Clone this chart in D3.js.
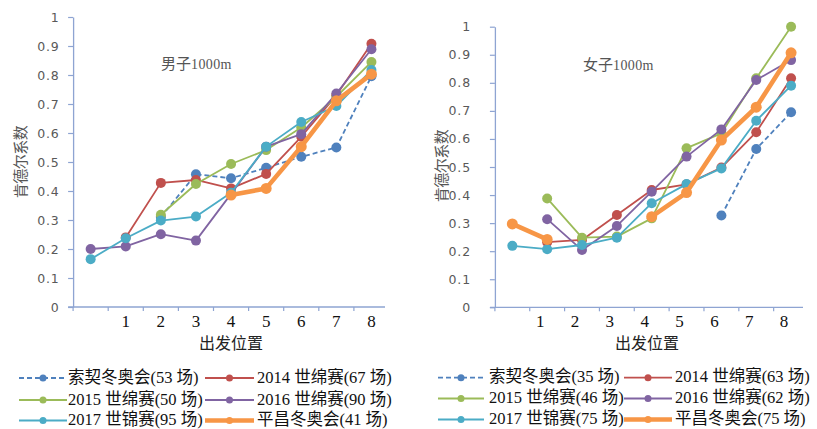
<!DOCTYPE html>
<html><head><meta charset="utf-8">
<script src="https://cdn.jsdelivr.net/npm/d3@7"></script>
<style>
html,body{margin:0;padding:0;background:#fff;}
svg{display:block;}
</style></head>
<body>
<svg id="c" width="817" height="429"></svg>
<script>
const categories = ["", "1", "2", "3", "4", "5", "6", "7", "8"];
const yTicks = [0, 0.1, 0.2, 0.3, 0.4, 0.5, 0.6, 0.7, 0.8, 0.9, 1];
const yTickLabels = ["0", "0.1", "0.2", "0.3", "0.4", "0.5", "0.6", "0.7", "0.8", "0.9", "1"];
const seriesColors = ["#4F81BD", "#C0504D", "#9BBB59", "#8064A2", "#4BACC6", "#F79646"];

// Men 1000m
const menNames = ["索契冬奥会(53 场)", "2014 世绵赛(67 场)", "2015 世绵赛(50 场)", "2016 世绵赛(90 场)", "2017 世锦赛(95 场)", "平昌冬奥会(41 场)"];
const menSochi = [null, null, 0.31, 0.458, 0.444, 0.480, 0.518, 0.550, 0.796];
const men2014 = [null, 0.240, 0.428, 0.438, 0.409, 0.459, 0.587, 0.730, 0.908];
const men2015 = [null, null, 0.318, 0.424, 0.493, 0.541, 0.619, 0.725, 0.845];
const men2016 = [0.200, 0.209, 0.251, 0.229, 0.390, 0.553, 0.596, 0.736, 0.889];
const men2017 = [0.165, 0.237, 0.298, 0.312, 0.394, 0.553, 0.638, 0.693, 0.817];
const menPC = [null, null, null, null, 0.386, 0.409, 0.553, 0.711, 0.803];

// Women 1000m
const womenNames = ["索契冬奥会(35 场)", "2014 世绵赛(63 场)", "2015 世绵赛(46 场)", "2016 世绵赛(62 场)", "2017 世锦赛(75 场)", "平昌冬奥会(75 场)"];
const womenSochi = [null, null, null, null, null, null, 0.327, 0.564, 0.695];
const women2014 = [null, 0.232, 0.240, 0.329, 0.418, 0.438, 0.498, 0.624, 0.816];
const women2015 = [null, 0.388, 0.248, 0.252, 0.317, 0.567, 0.620, 0.816, 1.000];
const women2016 = [null, 0.314, 0.204, 0.290, 0.412, 0.537, 0.634, 0.810, 0.881];
const women2017 = [0.219, 0.207, 0.222, 0.248, 0.371, 0.439, 0.495, 0.665, 0.790];
const womenPC = [0.297, 0.242, null, null, 0.323, 0.409, 0.596, 0.713, 0.907];

const svg = d3.select("#c");
const CJK = "'Noto Sans CJK SC', sans-serif";
const SERIF_CJK = "'Liberation Serif', 'Noto Sans CJK SC', serif";

function drawChart(cfg) {
  const g = svg.append("g");
  const x = d3.scaleBand().domain(categories).range(cfg.xRange).paddingInner(0).paddingOuter(0);
  const y = d3.scaleLinear().domain([0, 1]).range(cfg.yRange);
  const axisColor = "#8EA4D2";

  // y axis
  const ya = g.append("g").attr("transform", `translate(${cfg.xRange[0]},0)`)
    .call(d3.axisLeft(y).tickValues(yTicks).tickFormat((d, i) => yTickLabels[i]).tickSizeOuter(0).tickSizeInner(5).tickPadding(cfg.yPad));
  ya.select(".domain").attr("stroke", axisColor).attr("stroke-width", 1.3);
  ya.selectAll(".tick line").attr("stroke", axisColor).attr("stroke-width", 1.2);
  ya.selectAll(".tick text").attr("fill", "#595959").attr("font-family", "'DejaVu Sans', sans-serif")
    .attr("font-size", 12.5).attr("letter-spacing", 0.8);

  // x axis
  const y0 = y(0);
  g.append("line").attr("x1", cfg.xRange[0] - 5).attr("x2", cfg.xAxisEnd).attr("y1", y0).attr("y2", y0)
    .attr("stroke", axisColor).attr("stroke-width", 1.3);
  g.selectAll(".xt").data(categories).enter().append("line")
    .attr("x1", d => x(d)).attr("x2", d => x(d)).attr("y1", y0).attr("y2", y0 + 4)
    .attr("stroke", axisColor).attr("stroke-width", 1.2);
  g.selectAll(".xl").data(categories).enter().append("text")
    .attr("x", d => x(d) + x.bandwidth() / 2 + cfg.xLabelDx).attr("y", y0 + 14)
    .attr("dy", "0.35em").attr("text-anchor", "middle")
    .attr("font-family", "'Liberation Serif', serif").attr("font-size", 17).attr("fill", "#111")
    .text(d => d);

  // titles
  g.append("text").attr("x", cfg.titleX).attr("y", cfg.titleY).attr("dy", "0.35em")
    .attr("fill", "#555").attr("font-family", CJK).attr("font-size", 15)
    .call(t => {
      t.append("tspan").text(cfg.title[0]);
      t.append("tspan").attr("font-family", "'Liberation Serif', serif").attr("font-size", 14).attr("letter-spacing", 0.4).text(cfg.title[1]);
    });
  g.append("text").attr("transform", `translate(${cfg.yTitleX},${cfg.yTitleY}) rotate(-90)`)
    .attr("text-anchor", "middle").attr("dy", "0.35em")
    .attr("fill", "#555").attr("font-family", CJK).attr("font-size", 15).attr("letter-spacing", -0.5)
    .text("肯德尔系数");
  g.append("text").attr("x", cfg.xTitleX).attr("y", 343).attr("dy", "0.35em").attr("text-anchor", "middle")
    .attr("fill", "#222").attr("font-family", CJK).attr("font-size", 16)
    .text("出发位置");

  // series
  const line = d3.line().defined(d => d.v != null).x(d => x(d.c) + x.bandwidth() / 2).y(d => y(d.v));
  cfg.series.forEach((vals, i) => {
    const pts = vals.map((v, j) => ({ c: categories[j], v }));
    const isPC = i === 5;
    g.append("path").datum(pts).attr("d", line).attr("fill", "none")
      .attr("stroke", seriesColors[i]).attr("stroke-width", isPC ? 4.6 : 1.8)
      .attr("stroke-dasharray", i === 0 ? "5,3" : null).attr("stroke-linejoin", "round");
    g.selectAll(null).data(pts.filter(d => d.v != null)).enter().append("circle")
      .attr("cx", d => x(d.c) + x.bandwidth() / 2).attr("cy", d => y(d.v))
      .attr("r", isPC ? 5.5 : 5).attr("fill", seriesColors[i]);
  });

  // legend
  const lg = g.append("g");
  cfg.names.forEach((name, i) => {
    const col = i % 2, row = Math.floor(i / 2);
    const ly = cfg.legendRows[row];
    const [lx1, lx2, tx] = cfg.legendCols[col];
    lg.append("line").attr("x1", lx1).attr("x2", lx2).attr("y1", ly).attr("y2", ly)
      .attr("stroke", seriesColors[i]).attr("stroke-width", i === 5 ? 4.6 : 1.8)
      .attr("stroke-dasharray", i === 0 ? "5,3" : null);
    lg.append("circle").attr("cx", (lx1 + lx2) / 2).attr("cy", ly).attr("r", 3.5).attr("fill", seriesColors[i]);
    lg.append("text").attr("x", tx).attr("y", ly - 1).attr("dy", "0.35em")
      .attr("font-family", SERIF_CJK).attr("font-size", 16.5).attr("fill", "#111")
      .text(name);
  });
}

drawChart({
  xRange: [73.1, 389], yRange: [307, 17], xAxisEnd: 385, yPad: 8.5, xLabelDx: 0,
  title: ["男子", "1000m"], titleX: 161, titleY: 64,
  yTitleX: 21, yTitleY: 162, xTitleX: 231,
  series: [menSochi, men2014, men2015, men2016, men2017, menPC],
  names: menNames,
  legendRows: [378, 400, 420.5],
  legendCols: [[19, 67, 68], [205, 254, 257]]
});
drawChart({
  xRange: [494.9, 808.5], yRange: [307.3, 26.7], xAxisEnd: 803, yPad: 19, xLabelDx: -7,
  title: ["女子", "1000m"], titleX: 583, titleY: 65,
  yTitleX: 442, yTitleY: 166, xTitleX: 647,
  series: [womenSochi, women2014, women2015, women2016, women2017, womenPC],
  names: womenNames,
  legendRows: [377.7, 398.5, 419.5],
  legendCols: [[438, 484, 489], [624, 672, 675]]
});
</script>
</body></html>
